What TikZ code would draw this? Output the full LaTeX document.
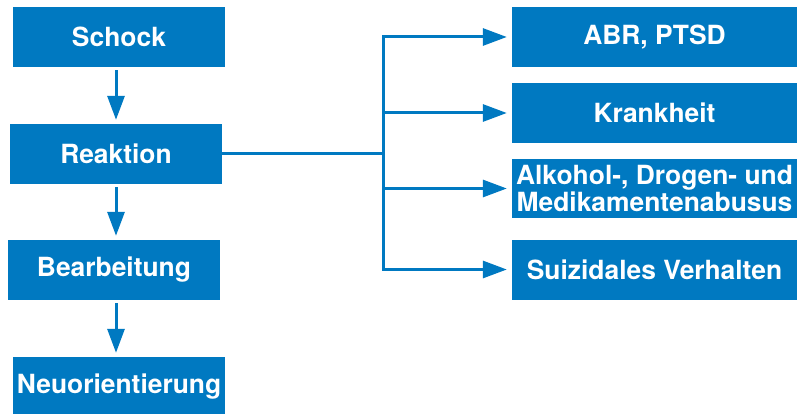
\documentclass[tikz,border=0pt]{standalone}
\usepackage{fontspec}
\setmainfont{TeX Gyre Heros}
\usepackage{xcolor}
\usetikzlibrary{arrows.meta, calc, positioning}

\definecolor{boxblue}{RGB}{0,121,193}

\begin{document}
\begin{tikzpicture}[x=1pt, y=1pt,
        box/.style={fill=boxblue, text=white, inner sep=0pt, minimum height=60pt,
                    font=\bfseries\fontsize{26.4}{27}\selectfont, align=center},
        lbox/.style={box, minimum width=212pt},
        rbox/.style={box, minimum width=285pt},
        flow/.style={color=boxblue, line width=3pt, -{Triangle[length=24pt, width=17pt]}}]
                            \useasboundingbox (0, 0) rectangle (803, 413);

                            \node[lbox] (schock) at (119, 376) {Schock};
                            \node[lbox] (reaktion) at (116, 259) {Reaktion};
                            \node[lbox] (bearbeitung) at (114, 143) {Bearbeitung};
                            \node[lbox] (neuorientierung) at (119, 26) {Neuorientierung};

                            \node[rbox] (abr) at (654.5, 376) {ABR, PTSD};
                            \node[rbox] (krankheit) at (654.5, 300) {Krankheit};
                            \node[rbox, minimum height=59pt] (abusus) at (654.5, 224.5) {Alkohol-, Drogen- und\\Medikamentenabusus};
                            \node[rbox] (suizid) at (654.5, 143.5) {Suizidales Verhalten};

                            \coordinate (split) at ($(reaktion.east) + (161, 0)$);

                            \draw[boxblue, line width=3pt] (reaktion.east) -- (split);

                            \draw[flow, shorten <=3pt, shorten >=4pt] (schock.south -| reaktion) -- (reaktion.north);
                            \draw[flow, shorten <=3pt, shorten >=4pt] (reaktion.south) -- (bearbeitung.north -| reaktion);
                            \draw[flow, shorten <=3pt, shorten >=4pt] (bearbeitung.south -| reaktion) -- (neuorientierung.north -| reaktion);

                            \draw[flow, shorten >=5pt] (split) |- (abr.west);
                            \draw[flow, shorten >=5pt] (split) |- (krankheit.west);
                            \draw[flow, shorten >=5pt] (split) |- (abusus.west);
                            \draw[flow, shorten >=5pt] (split) |- (suizid.west);
                        \end{tikzpicture}
\end{document}
